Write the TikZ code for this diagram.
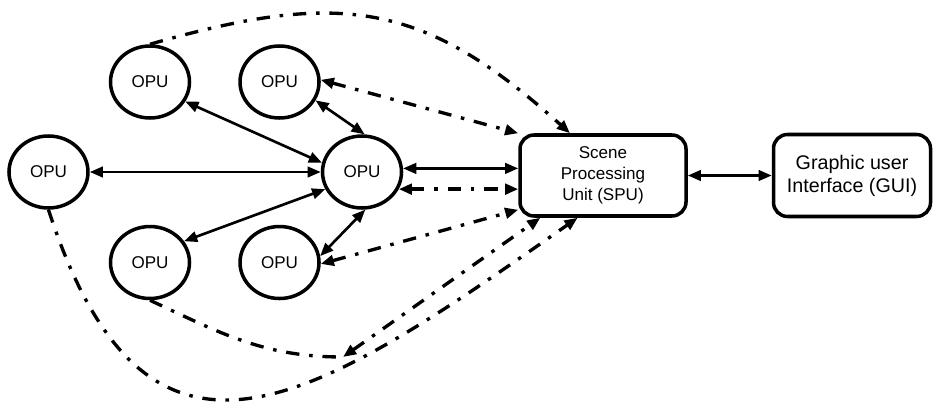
\documentclass[tikz,border=0pt]{standalone}
\usepackage{fontspec}
\setmainfont{Liberation Sans}
\usetikzlibrary{positioning, arrows.meta, shapes.geometric}

\begin{document}
\begin{tikzpicture}[>={Triangle[length=7.5pt, width=6pt]},
            opu/.style={ellipse, draw, line width=2pt, minimum width=1.58cm,
            minimum height=1.44cm, inner sep=0pt, font=\fontsize{9.7}{11.6}\selectfont},
            unit/.style={draw, line width=2pt, rounded corners=0.28cm, align=center},
            link/.style={<->, line width=1.5pt},
            dotlink/.style={line width=1.9pt, dash pattern=on 7.6pt off 5.6pt on 2pt off 5.6pt}]
          \useasboundingbox (0,0) rectangle (18.68,-8.14);
          \node[opu] (opuc) at (7.24,-3.44) {OPU};
          \node[opu, left=4.62cm of opuc] (opul) {OPU};
          \node[opu] (opuat) at (3.0,-1.64) {OPU};
          \node[opu, right=0.94cm of opuat] (opubt) {OPU};
          \node[opu, below=2.1cm of opuat] (opuab) {OPU};
          \node[opu, right=0.94cm of opuab] (opubb) {OPU};
          \node[unit, minimum width=3.32cm, minimum height=1.62cm,
            font=\fontsize{9.7}{12}\selectfont] (spu) at (12.06,-3.51)
            {Scene\\Processing\\Unit (SPU)};
          \node[unit, right=1.68cm of spu, minimum width=3.14cm, minimum height=1.64cm,
            font=\fontsize{11.2}{13.1}\selectfont] (gui) {Graphic user\\Interface (GUI)};
          \coordinate (jn) at (6.86,-7.14);
          \path[link] (opul) edge (opuc)
                (opuat.-29) edge (opuc.167)
                (opubt.-27) edge (opuc.86)
                (opuab.32) edge (opuc.205)
                (opubb.9) edge (opuc.275)
                (opuc.5) edge (opuc.5 -| spu.west)
                (spu) edge (gui);
          \draw[dotlink, ->] (opuat.north) to[out=16, in=138, looseness=1.18] (spu.128);
          \draw[dotlink, <->] (opubt.3) -- (spu.north west);
          \draw[dotlink, <->] (opuc.-25) -- (opuc.-25 -| spu.west);
          \draw[dotlink, <->] (opubb.-2) -- (spu.202);
          \draw[dotlink, ->] (opul.south) to[out=-72, in=215, looseness=1.55] (spu.239);
          \draw[dotlink] (opuab.south) to[out=-25, in=180] (jn);
          \draw[dotlink, <->] (jn) -- (spu.214);
        \end{tikzpicture}
\end{document}
